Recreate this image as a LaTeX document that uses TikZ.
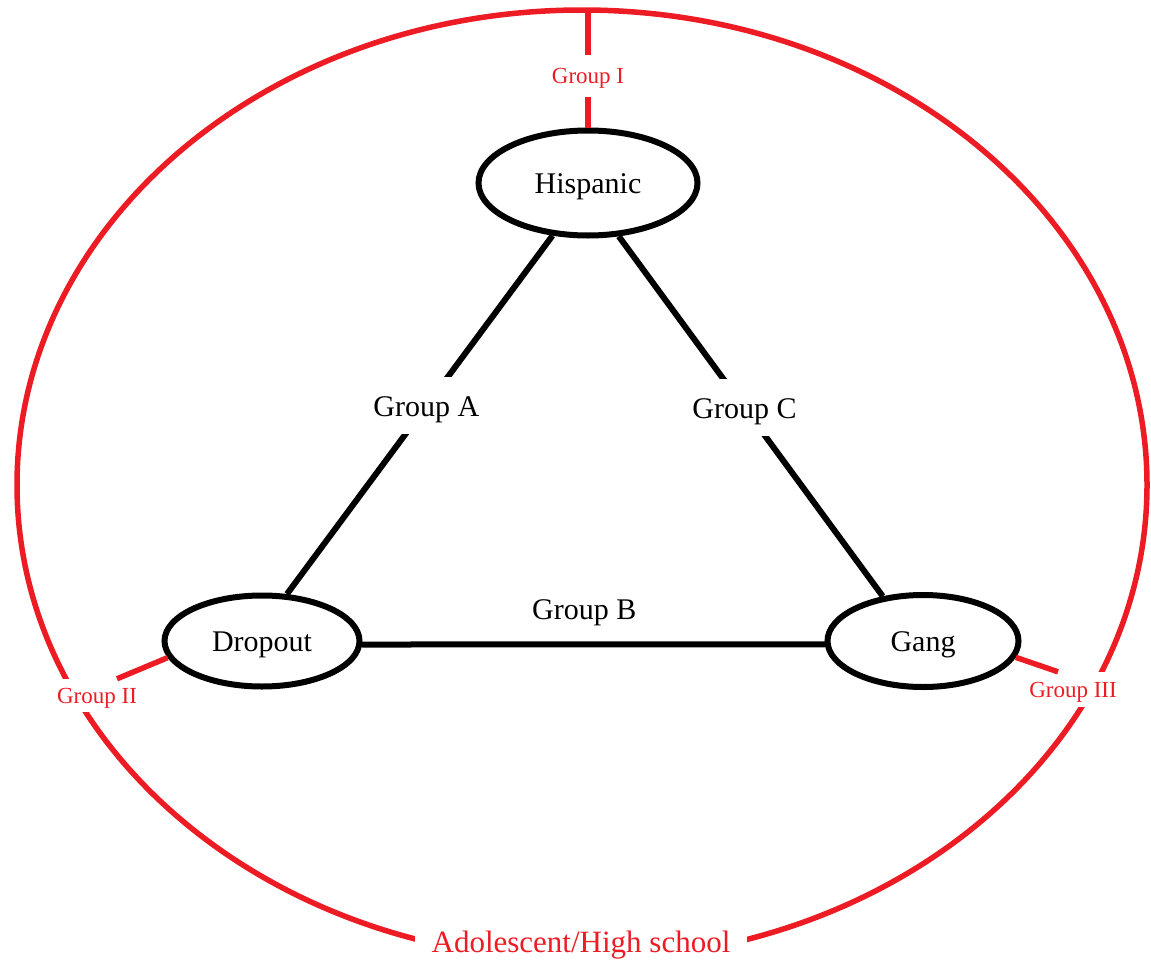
\documentclass[tikz,border=0pt]{standalone}
\usepackage{fontspec}
\setmainfont{Liberation Serif}
\usetikzlibrary{shapes.geometric}
\definecolor{pred}{HTML}{ED1C24}
\begin{document}
\begin{tikzpicture}[x=1pt,y=-1pt,
 ent/.style={ellipse, draw=black, line width=6pt, inner sep=0pt, text height=21pt, text depth=0pt, font=\fontsize{30}{36}\selectfont},
 link/.style={draw=black, line width=6pt},
 blab/.style={font=\fontsize{30}{36}\selectfont, fill=white, text height=21pt, text depth=0pt, inner xsep=2pt, inner ysep=18pt},
 rlab/.style={font=\fontsize{23}{27}\selectfont, text=pred, fill=white, text height=15pt, text depth=0pt, inner xsep=2pt, inner ysep=9pt},
 rlink/.style={draw=pred, line width=5.5pt}]
\useasboundingbox (0,0) rectangle (1151,961);
\fill[white] (0,0) rectangle (1151,961);
\draw[pred, line width=5.5pt] (582,485) ellipse [x radius=565pt, y radius=475pt];
\node[ent, minimum width=219pt, minimum height=105pt] (hisp) at (588,183) {Hispanic};
\node[ent, minimum width=195pt, minimum height=91pt] (drop) at (262,641) {Dropout};
\node[ent, minimum width=191pt, minimum height=92pt] (gang) at (923,641) {Gang};
\coordinate (top) at (588,10);
\draw[rlink] (top) -- node[rlab, pos=0.56, inner ysep=13.5pt] (g1) {Group I} (hisp.north);
\node[rlab] (g2) at (97,695.5) {Group II};
\node[rlab, inner ysep=10pt] (g3) at (1073,689.5) {Group III};
\node[font=\fontsize{31}{37}\selectfont, text=pred, fill=white, inner xsep=17pt, inner ysep=4pt] (school) at (581,945) {Adolescent/High school};
\draw[rlink] (drop.190) -- ([xshift=20pt]g2.north);
\draw[rlink] (gang.-10) -- ([xshift=-15pt]g3.north);
\draw[link] (hisp.236) -- node[blab, pos=0.475] (ga) {Group A} (drop.62);
\draw[link] (hisp.-60) -- node[blab, pos=0.476] (gc) {Group C} (gang.132);
\draw[link] (drop.-2) -- node[font=\fontsize{30}{36}\selectfont, text height=21pt, text depth=0pt, above=22pt, inner sep=0pt, pos=0.48] (gb) {Group B} (gang.182);
\end{tikzpicture}
\end{document}
